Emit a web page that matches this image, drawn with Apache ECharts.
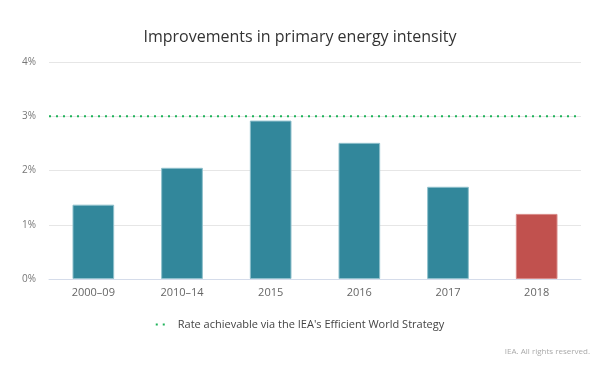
<!DOCTYPE html>
<html><head><meta charset="utf-8">
<script src="https://cdn.jsdelivr.net/npm/echarts@6/dist/echarts.min.js"></script>
<style>html,body{margin:0;padding:0;background:#fff}#c{width:600px;height:365px}</style>
</head><body><div id="c"></div>
<script>
const categories = ['2000–09', '2010–14', '2015', '2016', '2017', '2018'];
const values = [1.37, 2.05, 2.92, 2.51, 1.70, 1.20];
const targetRate = 3;
const targetName = "Rate achievable via the IEA's Efficient World Strategy";
const yTicks = [0, 1, 2, 3, 4];
const highlightIndex = 5;

const chart = echarts.init(document.getElementById('c'), null, {renderer: 'canvas'});
const font = '"Open Sans", "Noto Sans", sans-serif';
chart.setOption({
  animation: false,
  textStyle: {fontFamily: font},
  title: {
    text: 'Improvements in primary energy intensity',
    left: 'center', top: 24,
    textStyle: {fontFamily: font, fontSize: 16, fontWeight: 'normal', color: '#333'}
  },
  graphic: [{
    type: 'text', right: 10, top: 348,
    style: {text: 'IEA. All rights reserved.', fontFamily: font, fontSize: 8, fill: '#aaa'}
  }],
  legend: {
    data: [{name: targetName, icon: 'path://M0,0h2v2h-2zM7,0h2v2h-2z'}],
    left: 'center', top: 314,
    itemWidth: 9, itemHeight: 2, itemGap: 10,
    textStyle: {fontFamily: font, fontSize: 11, color: '#444', padding: [0, 0, 0, 8]}
  },
  grid: {left: 49, right: 19, top: 62, bottom: 86},
  xAxis: [{
    type: 'category', data: categories,
    axisLine: {lineStyle: {color: '#d5dcea', width: 1}},
    axisTick: {show: false},
    axisLabel: {color: '#666', fontSize: 11, margin: 8, fontFamily: font}
  }, {
    type: 'value', min: 0, max: 1, show: false
  }],
  yAxis: {
    type: 'value', min: yTicks[0], max: yTicks[yTicks.length - 1], interval: 1,
    axisLine: {show: false}, axisTick: {show: false},
    axisLabel: {formatter: v => v + '%', color: '#777', fontSize: 10, margin: 13, fontFamily: font},
    splitLine: {lineStyle: {color: '#e6e6e6'}}
  },
  series: [{
    type: 'bar', barWidth: '47%',
    data: values.map((v, i) => ({
      value: v,
      itemStyle: i === highlightIndex
        ? {color: '#c1514e', borderColor: '#d98a88', borderWidth: 1}
        : {color: '#32879b', borderColor: '#8fc0cc', borderWidth: 1}
    }))
  }, {
    name: targetName, type: 'line', xAxisIndex: 1,
    data: [[0, targetRate], [1, targetRate]],
    symbol: 'none',
    lineStyle: {color: '#1fb35a', width: 2, type: [2, 5]},
    itemStyle: {color: '#1fb35a'}
  }]
});
</script></body></html>
